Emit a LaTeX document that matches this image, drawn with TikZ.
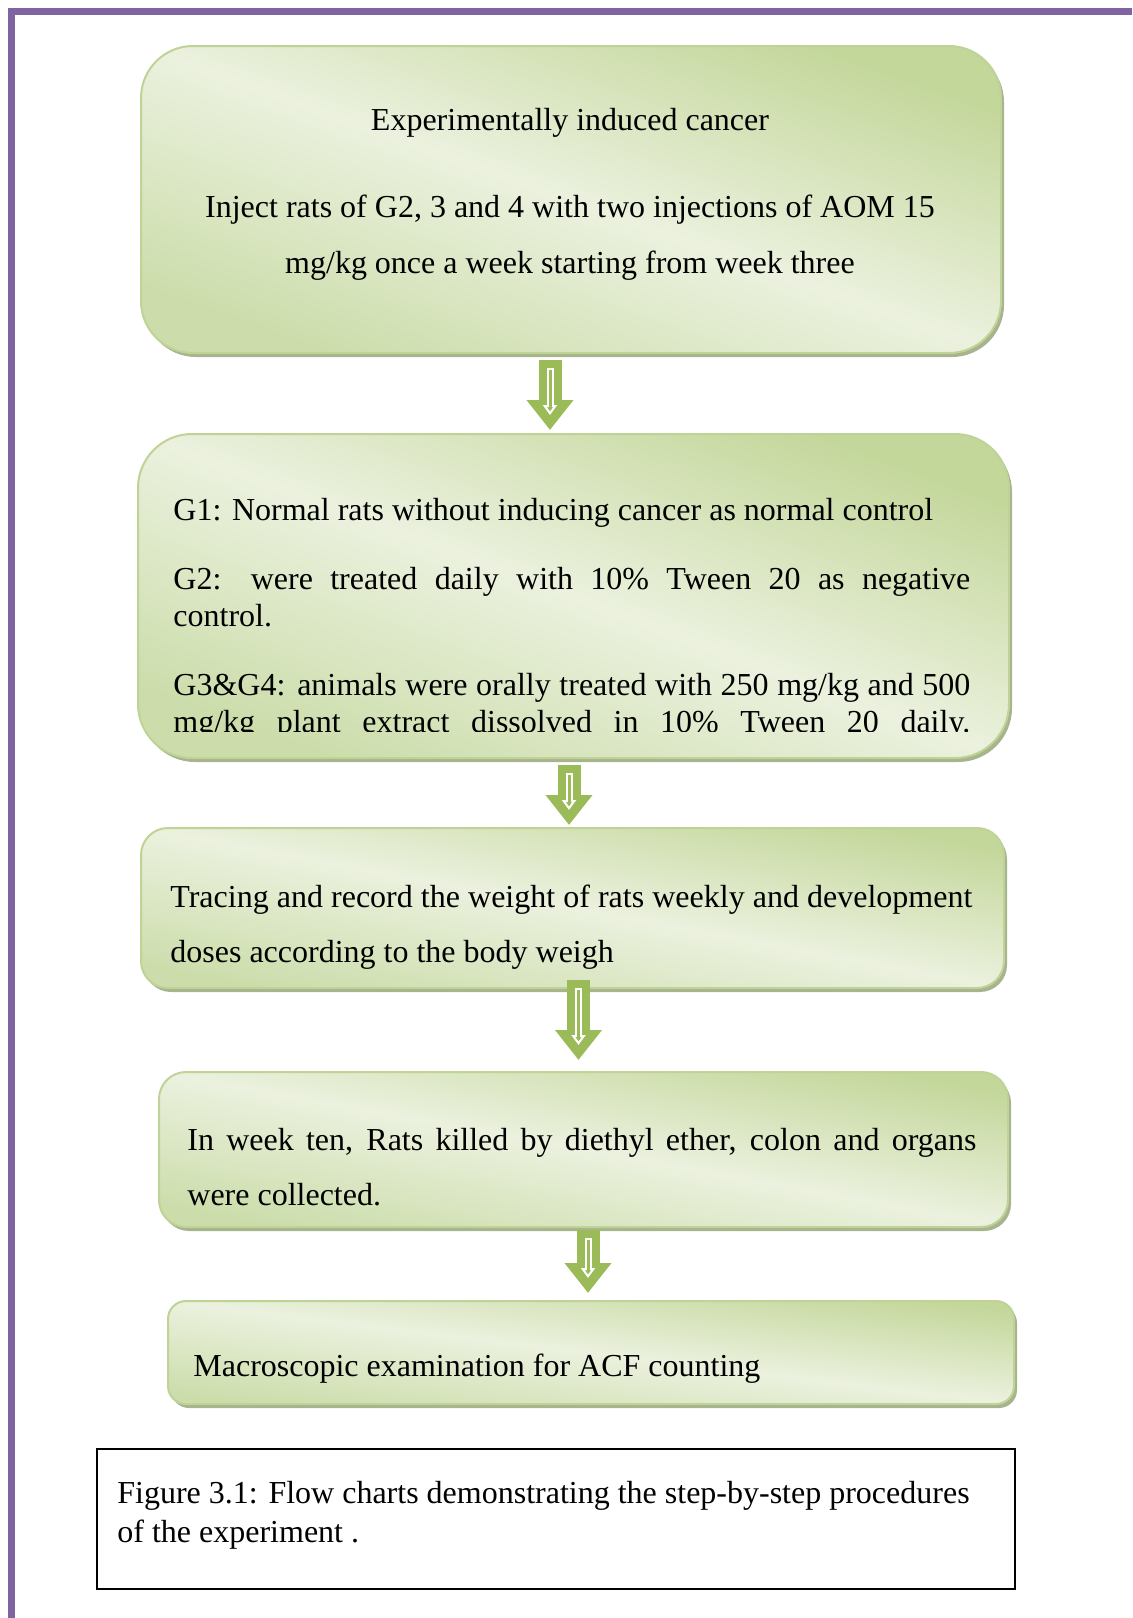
\documentclass[tikz,border=0pt]{standalone}
\usepackage{fontspec}
\setmainfont{Liberation Serif}
\usetikzlibrary{positioning}
\usetikzlibrary{shadows}
\usetikzlibrary{arrows.meta}
\definecolor{framepurple}{HTML}{8064A2}
\definecolor{stepdark}{HTML}{C4D79B}
\definecolor{steplight}{HTML}{EBF1DE}
\definecolor{stepmid}{HTML}{CCDDAB}
\definecolor{stepborder}{HTML}{BFD396}
\definecolor{stepshadow}{HTML}{A7B48D}
\definecolor{arrowgreen}{HTML}{9BBB59}
\tikzset{
    framebar/.style = {draw=framepurple, line width=3.5pt},
    stepbox/.style = {rectangle, rounded corners=#1, draw=stepborder, line width=1pt, anchor=north west, inner sep=0pt,
        top color=stepdark, bottom color=stepmid, middle color=steplight,
        drop shadow={shadow xshift=1.5pt, shadow yshift=-2pt, fill=stepshadow, opacity=1}},
    steptext/.style = {anchor=base west, inner sep=0pt, align=justify, font=\fontsize{16}{27.5}\selectfont},
    flowarrow/.style = {draw=arrowgreen, line width=11.5pt, shorten >=#1, -{Triangle[width=22.5pt, length=15pt]},
        postaction={draw=white, line width=3.5pt, shorten <=4pt, shorten >=#1+7.5pt, -{Triangle[fill=arrowgreen, width=7pt, length=5pt, line width=1pt]}},
        postaction={draw=arrowgreen, line width=1.5pt, shorten <=5pt, shorten >=#1+11pt, -}},
    capbox/.style = {rectangle, draw=black, line width=1pt, anchor=north west, inner sep=0pt},
}

\begin{document}
\begin{tikzpicture}[x=0.5pt, y=-0.5pt]
\useasboundingbox (0,0) rectangle (1132,1618);
\draw[framebar] (11.5,1618) -- (11.5,11.5) -- (1132,11.5);
% boxes
\node[stepbox=26pt, shading angle=-19.6, minimum width=430pt, minimum height=153.5pt] (b1) at (140,45) {};
\node[stepbox=27pt, shading angle=-20.4, minimum width=435.5pt, minimum height=162pt] (b2) at (137,433) {};
\node[stepbox=13.5pt, shading angle=-10.5, minimum width=431.5pt, minimum height=80pt] (b3) at (140,827) {};
\node[stepbox=13.5pt, shading angle=-10.3, minimum width=424.5pt, minimum height=77.5pt] (b4) at (158,1071) {};
\node[stepbox=9pt, shading angle=-6.9, minimum width=423pt, minimum height=51.5pt] (b5) at (167,1300) {};
\node[capbox, minimum width=459.25pt, minimum height=70pt] (cap) at (95.5,1448) {};
% texts
\node[anchor=base, inner sep=0pt, align=center, font=\fontsize{16}{28}\selectfont] (t1) at (570,273)
    {Experimentally induced cancer\\[15.5pt]
     Inject rats of G2, 3 and 4 with two injections of AOM 15\\
     mg/kg once a week starting from week three};
\begin{scope}
\clip (0,0) rectangle (1132,731);
\node[steptext, text width=398.5pt, font=\fontsize{16}{18.5}\selectfont] (t2) at (173,520)
    {\setlength{\parindent}{0pt}\setlength{\parskip}{16pt}%
     G1: Normal rats without inducing cancer as normal control\par
     G2: were treated daily with 10\% Tween 20 as negative\linebreak control.\par
     \parfillskip=0pt G3\&G4: animals were orally treated with 250 mg/kg and 500\linebreak
     mg/kg plant extract dissolved in 10\% Tween 20 daily.\par};
\end{scope}
\node[steptext, text width=401pt] (t3) at (170,907)
    {Tracing and record the weight of rats weekly and development\linebreak doses according to the body weigh};
\node[steptext, text width=394.5pt] (t4) at (187,1150)
    {In week ten, Rats killed by diethyl ether, colon and organs\linebreak were collected.};
\node[steptext] (t5) at (193,1376) {Macroscopic examination for ACF counting};
\node[anchor=base west, inner sep=0pt, align=left, font=\fontsize{16}{19.5}\selectfont] (t6) at (117,1542)
    {Figure 3.1: Flow charts demonstrating the step-by-step procedures\\ of the experiment .};
% arrows
\coordinate (a1) at (550,360);
\coordinate (a2) at (569,765);
\coordinate (a3) at (578.5,980);
\coordinate (a4) at (588,1230);
\draw[flowarrow=1.5pt] (a1) -- (a1 |- b2.north);
\draw[flowarrow=1pt] (a2) -- (a2 |- b3.north);
\draw[flowarrow=5.5pt] (a3) -- (a3 |- b4.north);
\draw[flowarrow=3.5pt] (a4) -- (a4 |- b5.north);
\end{tikzpicture}
\end{document}
